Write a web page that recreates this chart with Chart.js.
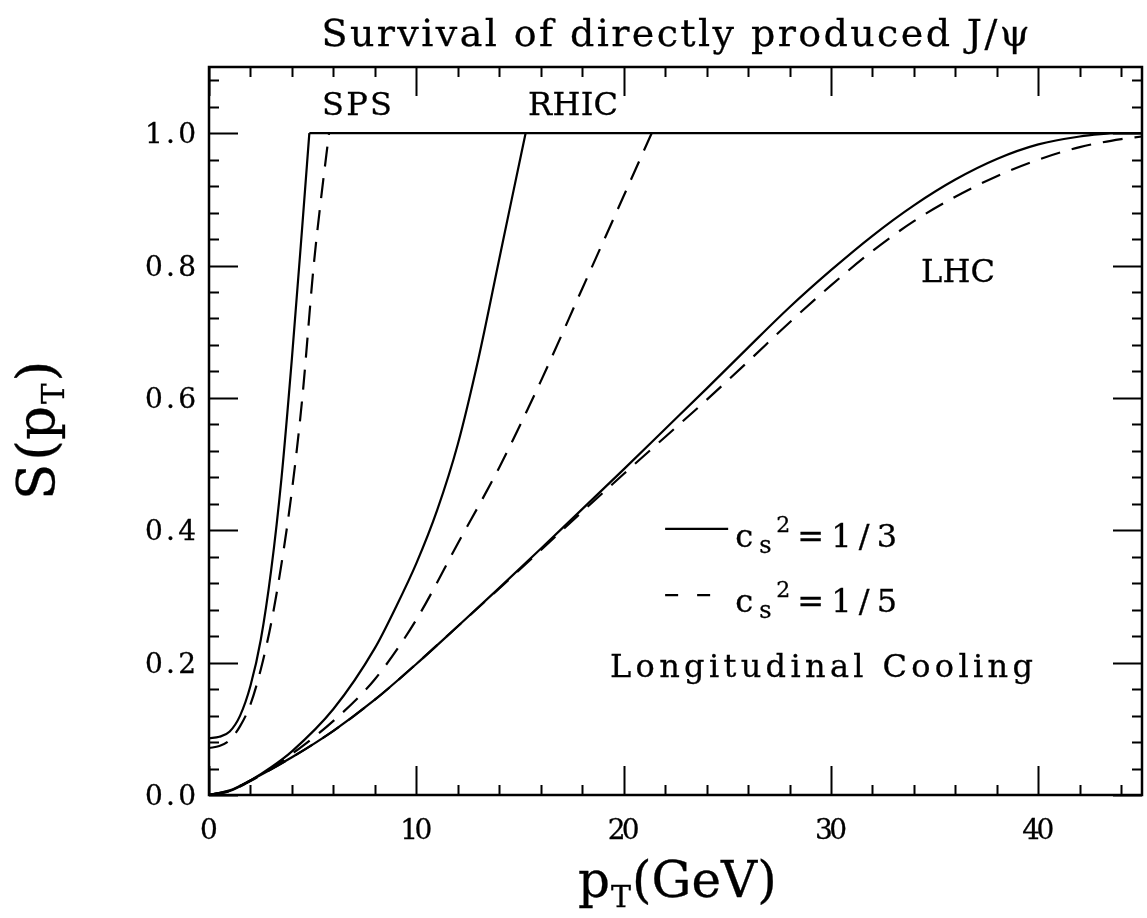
<!DOCTYPE html>
<html>
<head>
<meta charset="utf-8">
<script src="https://cdn.jsdelivr.net/npm/chart.js@4/dist/chart.umd.min.js"></script>
<style>
html,body{margin:0;padding:0;background:#fff;}
canvas{display:block;}
</style>
</head>
<body>
<canvas id="c" width="1147" height="918"></canvas>
<script>
// ---- data ----
// rising parts; each curve then stays at S = 1 up to pT = 45
const spsSolidX  = [0, 0.5, 1.0, 1.5, 2.0, 2.5, 3.0, 3.5, 4.0, 4.5, 4.84];
const spsSolidY  = [0.086, 0.088, 0.096, 0.12, 0.165, 0.235, 0.34, 0.48, 0.66, 0.86, 1.0];
const spsDashX   = [0, 0.5, 1.0, 1.5, 2.0, 2.5, 3.0, 3.5, 4.0, 4.5, 5.05, 5.4, 5.79];
const spsDashY   = [0.071, 0.074, 0.083, 0.104, 0.137, 0.19, 0.26, 0.35, 0.46, 0.6, 0.8, 0.9, 1.0];
const rhicSolidX = [0, 1, 2, 3, 4, 6, 8, 9, 10, 11, 12, 13, 14, 14.6, 15.27];
const rhicSolidY = [0, 0.006, 0.022, 0.042, 0.066, 0.13, 0.222, 0.283, 0.35, 0.43, 0.53, 0.66, 0.81, 0.9, 1.0];
const rhicDashX  = [0, 1, 2, 3, 4, 6, 8, 10, 12, 14, 16, 18, 20, 21.35];
const rhicDashY  = [0, 0.006, 0.021, 0.04, 0.062, 0.112, 0.175, 0.265, 0.38, 0.495, 0.625, 0.765, 0.905, 1.0];
const lhcSolidX  = [0, 1, 2, 4, 6, 8, 10, 12, 14, 16, 18, 20, 22, 24, 26, 28, 30, 32, 34, 36, 38, 40, 42, 43.5];
const lhcSolidY  = [0, 0.007, 0.022, 0.057, 0.097, 0.144, 0.198, 0.255, 0.313, 0.372, 0.432, 0.492, 0.553, 0.614, 0.676, 0.737, 0.793, 0.845, 0.891, 0.93, 0.961, 0.983, 0.995, 1.0];
const lhcDashX   = [0, 1, 2, 4, 6, 8, 10, 12, 14, 16, 18, 20, 22, 24, 26, 28, 30, 32, 34, 36, 38, 40, 42, 44, 45];
const lhcDashY   = [0, 0.007, 0.022, 0.057, 0.097, 0.144, 0.198, 0.255, 0.312, 0.37, 0.428, 0.485, 0.541, 0.597, 0.655, 0.714, 0.77, 0.822, 0.867, 0.904, 0.935, 0.96, 0.979, 0.991, 0.995];
const plateauY = 1.0;
const xMax = 45;

const xTickValues = [0, 10, 20, 30, 40];
const xTickLabels = ['0', '10', '20', '30', '40'];
const yTickValues = [0, 0.2, 0.4, 0.6, 0.8, 1.0];
const yTickLabels = ['0.0', '0.2', '0.4', '0.6', '0.8', '1.0'];
const xMinorStep = 2;
const yMinorStep = 0.04;

const titleText = 'Survival of directly produced J/\u03C8';
const regionLabels = ['SPS', 'RHIC', 'LHC'];
const regionLabelX = [5.45, 15.39, 34.34];
const regionLabelY = [1.027, 1.027, 0.775];
const legendValues = ['=1/3', '=1/5'];
const noteText = 'Longitudinal Cooling';

// ---- helpers ----
const toPts = (xs, ys) => xs.map((x, i) => ({ x: x, y: ys[i] }));
const plateau = (xs) => [{ x: xs[xs.length - 1], y: plateauY }, { x: xMax, y: plateauY }];
const SERIF = '"DejaVu Serif", "Liberation Serif", serif';

function drawT(ctx, text, x, y) {
  ctx.fillText(text, x, y);
  ctx.strokeText(text, x, y);
}
function spaced(ctx, text, left, baseline, width) {
  ctx.letterSpacing = '0px';
  const w0 = ctx.measureText(text).width;
  const n = [...text].length;
  const sp = n > 1 ? (width - w0) / (n - 1) : 0;
  ctx.letterSpacing = sp + 'px';
  ctx.textAlign = 'left';
  drawT(ctx, text, left, baseline);
  ctx.letterSpacing = '0px';
}

const decor = {
  id: 'decor',
  afterDraw(chart) {
    const ctx = chart.ctx;
    const a = chart.chartArea;
    const xs = chart.scales.x, ys = chart.scales.y;
    ctx.save();
    ctx.fillStyle = '#000';
    ctx.strokeStyle = '#000';
    ctx.textBaseline = 'alphabetic';

    // frame
    ctx.lineWidth = 2.5;
    ctx.strokeRect(a.left, a.top, a.right - a.left, a.bottom - a.top);

    // ticks (inward, both sides)
    ctx.lineWidth = 2;
    const MAJ = 29, MIN = 10;
    ctx.beginPath();
    for (let v = xs.min; v <= xs.max + 1e-9; v += xMinorStep) {
      const p = Math.round(xs.getPixelForValue(v)) + 0.5;
      const L = xTickValues.some(t => Math.abs(t - v) < 1e-6) ? MAJ : MIN;
      ctx.moveTo(p, a.bottom); ctx.lineTo(p, a.bottom - L);
      ctx.moveTo(p, a.top); ctx.lineTo(p, a.top + L);
    }
    for (let k = 0; k * yMinorStep <= ys.max + 1e-9; k++) {
      const v = k * yMinorStep;
      const p = Math.round(ys.getPixelForValue(v)) + 0.5;
      const L = yTickValues.some(t => Math.abs(t - v) < 1e-6) ? MAJ : MIN;
      ctx.moveTo(a.left, p); ctx.lineTo(a.left + L, p);
      ctx.moveTo(a.right, p); ctx.lineTo(a.right - L, p);
    }
    ctx.stroke();

    ctx.lineWidth = 0.3;
    // tick labels
    ctx.font = '28px ' + SERIF;
    yTickValues.forEach((v, i) => {
      const p = ys.getPixelForValue(v);
      spaced(ctx, yTickLabels[i], a.left - 64, p + 10, 51);
    });
    xTickValues.forEach((v, i) => {
      const p = xs.getPixelForValue(v);
      const t = xTickLabels[i];
      const w = 32;
      if (t.length > 1) spaced(ctx, t, p - w / 2, a.bottom + 44, w);
      else { ctx.textAlign = 'center'; drawT(ctx, t, p, a.bottom + 44); }
    });

    // title
    ctx.font = '38px ' + SERIF;
    const cx = (a.left + a.right) / 2;
    spaced(ctx, titleText, cx - 354, 46, 708);

    // x axis title p_T(GeV)
    {
      const big = '50px ' + SERIF, sub = '30px ' + SERIF;
      let x = 578; const b = 897;
      ctx.textAlign = 'left';
      ctx.font = big; drawT(ctx, 'p', x, b); x += ctx.measureText('p').width + 1;
      ctx.font = sub; drawT(ctx, 'T', x, b + 10); x += ctx.measureText('T').width + 1;
      ctx.font = big; drawT(ctx, '(GeV)', x, b);
    }
    // y axis title S(p_T)
    {
      ctx.save();
      ctx.translate(54, 500);
      ctx.rotate(-Math.PI / 2);
      const big = '53px ' + SERIF, sub = '31px ' + SERIF;
      let x = 0;
      ctx.textAlign = 'left';
      ctx.font = big; drawT(ctx, 'S', x, 0); x += ctx.measureText('S').width + 3;
      drawT(ctx, '(p', x, 0); x += ctx.measureText('(p').width + 2;
      ctx.font = sub; drawT(ctx, 'T', x, 10); x += ctx.measureText('T').width + 2;
      ctx.font = big; drawT(ctx, ')', x, 0);
      ctx.restore();
    }

    // region labels
    ctx.font = '32px ' + SERIF;
    const rW = [70, 90, 74];
    regionLabels.forEach((t, i) => {
      spaced(ctx, t, xs.getPixelForValue(regionLabelX[i]), ys.getPixelForValue(regionLabelY[i]), rW[i]);
    });

    // legend
    const legY = [0.402, 0.302];
    const legTextY = [0.375, 0.276];
    const x0 = xs.getPixelForValue(22.0);
    ctx.lineWidth = 2.2;
    ctx.beginPath();
    ctx.moveTo(x0, ys.getPixelForValue(legY[0]));
    ctx.lineTo(xs.getPixelForValue(25.04), ys.getPixelForValue(legY[0]));
    ctx.stroke();
    ctx.setLineDash([13, 19]);
    ctx.beginPath();
    ctx.moveTo(x0, ys.getPixelForValue(legY[1]));
    ctx.lineTo(xs.getPixelForValue(24.3), ys.getPixelForValue(legY[1]));
    ctx.stroke();
    ctx.setLineDash([]);
    ctx.lineWidth = 0.3;
    const tx = xs.getPixelForValue(25.38);
    legendValues.forEach((val, i) => {
      const b = ys.getPixelForValue(legTextY[i]);
      ctx.textAlign = 'left';
      ctx.font = '32px ' + SERIF;
      drawT(ctx, 'c', tx, b);
      ctx.font = '24px ' + SERIF;
      drawT(ctx, 's', tx + 24, b + 6);
      ctx.font = '22px ' + SERIF;
      drawT(ctx, '2', tx + 41, b - 15);
      ctx.font = '32px ' + SERIF;
      spaced(ctx, val, tx + 62, b, 100);
    });

    // note
    ctx.font = '32px ' + SERIF;
    spaced(ctx, noteText, xs.getPixelForValue(19.34), ys.getPixelForValue(0.178), 423);

    ctx.restore();
  }
};

const lineBase = {
  showLine: true, pointRadius: 0, borderColor: '#000', borderWidth: 2.2,
  fill: false, cubicInterpolationMode: 'monotone'
};
const DASH = [20, 12];
const ds = (label, data, dashed) => Object.assign({ label: label, data: data }, lineBase, dashed ? { borderDash: DASH } : {});

new Chart(document.getElementById('c'), {
  type: 'scatter',
  data: {
    datasets: [
      ds('SPS 1/3',  toPts(spsSolidX, spsSolidY), false),
      ds('SPS 1/3 plateau', plateau(spsSolidX), false),
      ds('SPS 1/5',  toPts(spsDashX, spsDashY), true),
      ds('RHIC 1/3', toPts(rhicSolidX, rhicSolidY), false),
      ds('RHIC 1/5', toPts(rhicDashX, rhicDashY), true),
      ds('LHC 1/3',  toPts(lhcSolidX, lhcSolidY), false),
      ds('LHC 1/3 plateau', plateau(lhcSolidX), false),
      ds('LHC 1/5',  toPts(lhcDashX, lhcDashY), true)
    ]
  },
  options: {
    responsive: false,
    animation: false,
    layout: { padding: { left: 0, right: 5, top: 67, bottom: 0 } },
    plugins: { legend: { display: false }, tooltip: { enabled: false }, title: { display: false } },
    scales: {
      x: { type: 'linear', min: 0, max: xMax, grid: { display: false }, border: { display: false },
           ticks: { display: false }, afterFit(s) { s.height = 123; } },
      y: { type: 'linear', min: 0, max: 1.1, grid: { display: false }, border: { display: false },
           ticks: { display: false }, afterFit(s) { s.width = 209; } }
    }
  },
  plugins: [decor]
});
</script>
</body>
</html>
